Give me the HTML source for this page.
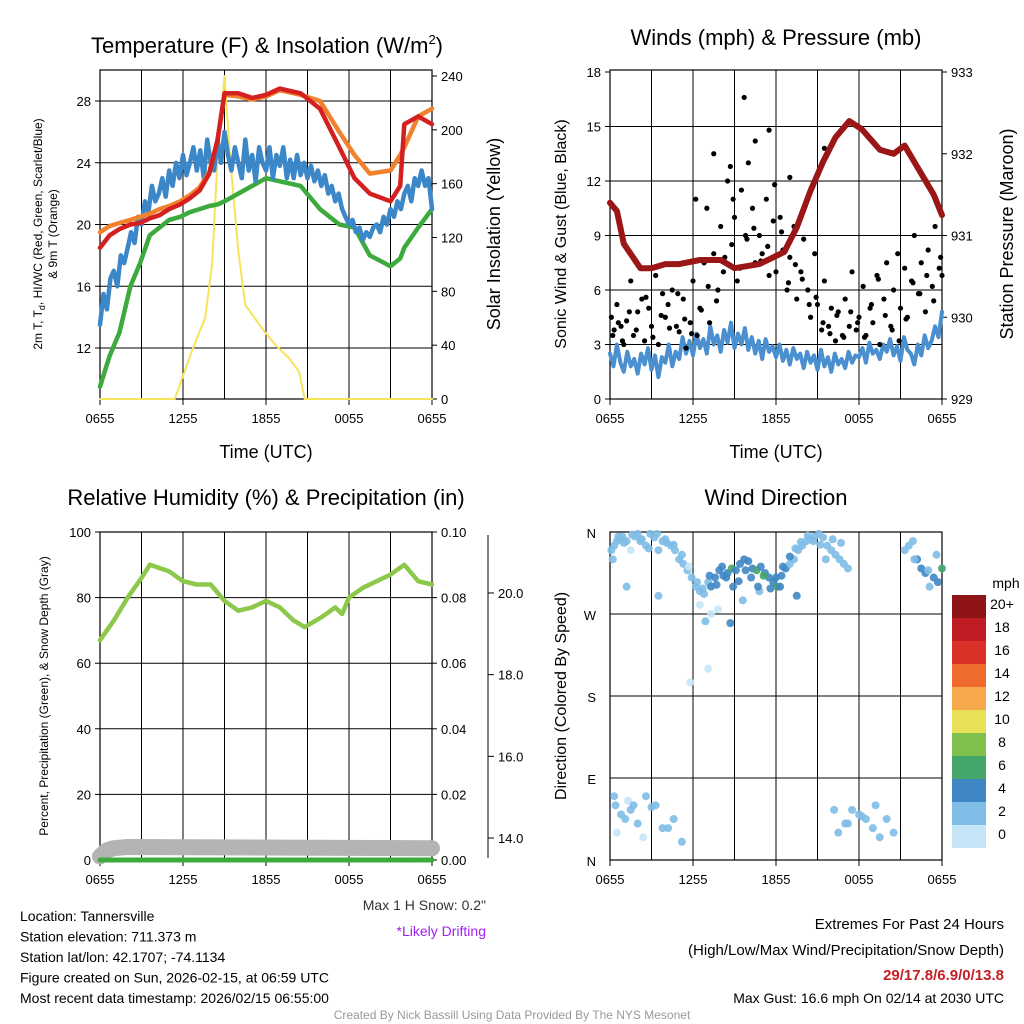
<!DOCTYPE html>
<html><head><meta charset="utf-8"><style>
body{margin:0;background:#fff}
svg{display:block;font-family:"Liberation Sans",sans-serif}
</style></head><body>
<svg id="s" width="1024" height="1024" viewBox="0 0 1024 1024" xmlns="http://www.w3.org/2000/svg"></svg>
<script>
// ---------- DATA (hours after 0655) ----------
const hours=[0,0.7,1.4,2.2,2.9,3.6,4.3,5,5.8,6.5,7.2,7.9,8.5,9,10,11,12,13,14.5,15.9,17.3,18.4,19.5,21,21.7,22,23,24];
const tempRed=[18.5,19.3,19.7,20,20.1,20.4,20.6,21,21.3,21.7,22.2,23.3,25.5,28.5,28.5,28.2,28.4,28.8,28.5,27.5,25,23,22,21.5,22.5,26.5,27,26.5];
const tempOrange=[19.5,19.9,20.1,20.3,20.5,20.7,21,21.2,21.5,21.9,22.4,23.4,25.5,28.4,28.3,28.1,28.3,28.7,28.4,28,26,24.5,23.3,23.5,24.5,25,27,27.5];
const tempGreen=[9.5,11.5,13,16,17.5,19.3,19.8,20.3,20.5,20.8,21,21.2,21.3,21.5,22,22.5,23,22.8,22.5,21,20,19.8,18,17.3,17.8,18.5,19.8,21];
const blueH=[0,0.25,0.5,0.75,1,1.25,1.5,1.75,2,2.25,2.5,2.75,3,3.25,3.5,3.75,4,4.25,4.5,4.75,5,5.25,5.5,5.75,6,6.25,6.5,6.75,7,7.25,7.5,7.75,8,8.25,8.5,8.75,9,9.25,9.5,9.75,10,10.25,10.5,10.75,11,11.25,11.5,11.75,12,12.25,12.5,12.75,13,13.25,13.5,13.75,14,14.25,14.5,14.75,15,15.25,15.5,15.75,16,16.25,16.5,16.75,17,17.25,17.5,17.75,18,18.25,18.5,18.75,19,19.25,19.5,19.75,20,20.25,20.5,20.75,21,21.25,21.5,21.75,22,22.25,22.5,22.75,23,23.25,23.5,23.75,24];
const tempBlue=[13.5,15.5,14.5,16.5,17,16,18,17.5,18.5,19.5,18.8,20.5,20,21.5,20.8,22.5,21.5,22,23,21.8,23.5,22.5,24,23,24.5,23.2,24,25,23.5,24.8,23,25.5,24,23.5,25.5,24,26,24.5,23.5,25,24,23,25.5,23.5,24.5,22.8,25,24,23.5,25,23,24.5,23.8,25,23,24.2,23,24.5,23.2,24,23,23.8,22.8,23.5,22.5,23.2,22,22.5,21.5,22,21,20.5,20,20.3,19.5,19.8,19,19.5,19.2,19.8,20,19.5,20.5,20,21,20.5,21.5,21,22,22.5,21.5,23,22.5,23.5,22.5,23,21];
const solT=[0,5.4,6.1,6.8,7.6,8.1,8.5,9,9.4,10,10.5,11.2,11.9,12.7,13.7,14.4,14.8,24];
const solV=[0,0,20,40,60,100,180,240,180,110,70,60,50,40,30,20,0,0];
const presH=[0,0.5,1,2.2,3,4,5,6.5,8,9,10.8,12.6,13.5,14.5,15.4,16.3,17.3,18.2,19.5,20.5,21.3,22,22.7,23.4,24];
const presV=[931.4,931.3,930.9,930.6,930.6,930.65,930.65,930.7,930.7,930.6,930.65,930.8,931.1,931.55,931.9,932.2,932.4,932.3,932.05,932.0,932.1,931.9,931.7,931.5,931.25];
const windH=[0,0.25,0.5,0.75,1,1.25,1.5,1.75,2,2.25,2.5,2.75,3,3.25,3.5,3.75,4,4.25,4.5,4.75,5,5.25,5.5,5.75,6,6.25,6.5,6.75,7,7.25,7.5,7.75,8,8.25,8.5,8.75,9,9.25,9.5,9.75,10,10.25,10.5,10.75,11,11.25,11.5,11.75,12,12.25,12.5,12.75,13,13.25,13.5,13.75,14,14.25,14.5,14.75,15,15.25,15.5,15.75,16,16.25,16.5,16.75,17,17.25,17.5,17.75,18,18.25,18.5,18.75,19,19.25,19.5,19.75,20,20.25,20.5,20.75,21,21.25,21.5,21.75,22,22.25,22.5,22.75,23,23.25,23.5,23.75,24];
const windV=[2.5,1.8,3,2,1.5,2.6,1.8,2.2,1.4,2.5,1.9,2.8,1.6,2.4,1.2,2.3,2,3,1.8,2.6,2.2,3.4,2.5,3.2,2.4,3.6,2.8,3.3,2.5,4,3,3.5,2.6,3.8,3.1,4.2,2.8,3.6,3,3.9,2.7,3.4,2.5,3.2,2.2,3.3,2.6,2.9,2.3,3,2.1,2.7,1.9,2.8,2.2,2.5,1.7,2.6,2,2.4,1.6,2.7,1.8,2.3,1.5,2.5,1.9,2.2,1.7,2.6,2,2.4,2.3,2.8,2,3.1,2.5,2.7,2.2,3,2.6,3.3,2.4,2.9,2.1,3.4,2.7,2.5,1.9,3,2.4,3.5,2.8,3.2,4,3.4,4.8];
const gustT=[0.1,0.3,0.5,0.8,1,1.2,1.5,1.7,2,2.3,2.5,2.8,3,3.3,3.5,3.8,4,4.2,4.5,4.8,5,5.3,5.5,5.8,6,6.3,6.5,6.8,7,7.2,7.5,7.8,8,8.2,8.5,8.8,9,9.2,9.5,9.8,10,10.3,10.5,10.8,11,11.3,11.5,11.8,12,12.3,12.5,12.8,13,13.3,13.5,13.8,14,14.3,14.5,14.8,15,15.3,15.5,15.8,16,16.3,16.5,16.8,17,17.3,17.5,17.8,18,18.3,18.5,18.8,19,19.3,19.5,19.8,20,20.3,20.5,20.8,21,21.3,21.5,21.8,22,22.3,22.5,22.8,23,23.3,23.5,23.8,24,9.7,10.5,6.2,7.5,8.7,11.5,13,15.5,0.2,0.6,0.9,1.4,1.9,2.6,3.1,3.7,4.3,4.9,5.4,5.9,6.6,7.1,7.7,8.3,8.9,9.4,9.9,10.4,10.9,11.4,11.9,12.4,12.9,13.4,13.9,14.4,14.9,15.4,15.9,16.4,16.9,17.4,17.9,18.4,18.9,19.4,19.9,20.4,20.9,21.4,21.9,22.4,22.9,23.4,23.9];
const gustV=[4.5,3.8,5.2,4,3,4.3,6.5,3.5,4.8,5.5,3.2,5,4,6.8,3,5.8,4.5,5.2,6,4,3.7,5.5,2.8,4.2,6.5,3.5,5,7.5,10.5,4.2,8,6,9.5,7,12,8.5,10,6.5,11.5,9,13,10.5,7.5,9,8,11,6.8,9.8,7,10,8.2,6,7.8,9.5,5.5,7,8.8,6,4.5,8,5.2,3.8,6.5,4,5,3.2,4.8,3.5,5.5,4,7,3.8,4.5,6.2,3.5,5,4.2,6.8,3,5.5,7.5,4,6,8,5,7.2,4.5,6.5,9,5.8,7.5,4.8,8.2,6.2,9.5,7.2,6.8,16.6,14.2,11,13.5,12.8,14.8,12.2,13.8,3.5,4.2,3.2,4.8,3.8,5.6,3.4,4.6,3.9,5.8,4.4,3.6,4.9,6.2,5.4,7.8,11,7.2,8.8,9.4,7.6,8.4,11.8,9.2,6.4,7.4,6.6,5.2,5.6,4.2,3.6,4.6,3.4,4.8,4.2,3.4,5.2,6.6,4.6,3.8,3.2,4.4,6.4,5.8,6.8,5.4,7.8,6.4,4.8,7.2,8.6];
const rhH=[0,1,2,3,3.6,5,6,7,8,9,10,11,12,13,14,14.8,16,17,17.5,18,19,20,21,22,23,24];
const rhV=[67,73,80,86,90,88,85,84,84,79,76,77,79,77,73,71,74,77,75,80,83,85,87,90,85,84];
const snowH=[0,0.5,1,2,24];
const snowV=[13.55,13.7,13.75,13.78,13.75];
const dirT=[0.1,0.3,0.5,0.7,0.9,1.2,1.5,1.8,2,2.3,2.6,2.9,3.2,3.5,3.8,4.1,4.4,4.7,5,5.3,5.6,5.9,6.2,6.5,6.8,7.1,7.3,7.6,7.9,8.2,8.5,8.8,9.1,9.4,9.7,10,10.3,10.6,10.9,11.2,11.5,11.8,12.1,12.4,12.7,13,13.3,13.6,13.9,14.2,14.5,14.8,15.1,15.4,15.7,16,16.3,16.6,16.9,17.2,21.3,21.6,21.9,22.2,22.5,22.8,23.1,23.4,23.7,24,1.2,3.5,6.5,6.9,7.3,7.8,8.7,9.6,10.8,12.3,13.5,0.3,0.8,1.3,2,2.6,3.3,4.2,5.2,0.5,1.5,16.5,17,17.5,18,18.5,19,19.5,20,20.5,5.8,7.1,0.2,0.6,1,1.6,2.2,2.8,3.4,4,4.6,5.2,5.7,6.3,6.7,7.2,7.7,8.1,8.4,8.9,9.3,9.8,10.2,10.7,11.1,11.6,12,12.5,13,13.4,13.8,14.3,14.7,15.2,15.6,16.1,16.7,22,23,23.6,0.4,1.1,1.7,2.4,3,3.8,4.6,16.2,17.2,18.2,19.2,20.2];
const dirV=[340,345,350,352,355,350,340,355,358,352,345,358,354,340,350,348,345,340,330,325,318,310,300,295,292,305,300,310,318,312,315,320,318,325,330,328,320,318,322,315,310,305,300,312,320,325,330,340,345,350,352,355,358,354,345,340,335,330,325,320,340,345,350,330,320,315,300,310,305,320,300,290,280,262,270,275,260,285,295,300,290,70,50,65,40,70,60,35,20,30,55,30,40,55,50,45,35,25,45,30,195,210,330,355,348,357,350,342,358,352,346,335,322,305,298,312,302,322,310,300,306,318,310,300,312,298,310,322,333,342,349,356,350,346,330,352,348,330,318,335,60,45,60,25,58,35,45,55,40,48,60];
const dirS=[2,2,2,2,2,2,0,2,2,2,2,2,2,2,2,2,2,2,2,2,2,2,2,2,2,2,4,4,4,4,4,6,4,4,4,4,4,6,4,4,4,4,6,4,4,2,2,2,2,2,2,2,2,2,2,2,2,2,2,2,2,2,2,4,4,4,2,4,4,6,2,2,0,2,0,0,4,2,2,4,4,2,2,0,2,2,2,2,2,0,2,2,2,2,2,2,2,2,2,2,0,0,2,2,2,2,2,2,2,2,2,2,0,2,2,4,4,4,4,4,4,4,4,4,6,4,4,4,4,2,2,2,2,2,2,2,2,2,2,2,2,2,2,0,2,2,2,2,2,2,2,2];
const cbLabels=["20+","18","16","14","12","10","8","6","4","2","0"];
const cbColors=["#8e1417","#c01c23","#da3229","#ef6a2d","#f6a94a","#e8e158","#80c04c","#44a56a","#3f87c4","#7fbde6","#c6e6f7"];

// ---------- helpers ----------
const S=document.getElementById('s');const NS="http://www.w3.org/2000/svg";
function el(t,a,p){const e=document.createElementNS(NS,t);for(const k in a)e.setAttribute(k,a[k]);(p||S).appendChild(e);return e;}
function txt(x,y,s,size,anchor,p,extra){const e=el('text',Object.assign({x:x,y:y,'font-size':size,'text-anchor':anchor||'middle',fill:'#000'},extra||{}),p);e.textContent=s;return e;}
function panel(x0,y0,x1,y1){return {x:h=>x0+(x1-x0)*h/24,x0,y0,x1,y1};}
function linear(v0,v1,p0,p1){return v=>p0+(v-v0)*(p1-p0)/(v1-v0);}
function poly(xs,ys,fx,fy,color,w,name){const pts=xs.map((h,i)=>fx(h).toFixed(1)+','+fy(ys[i]).toFixed(1)).join(' ');
 const e=el('polyline',{points:pts,fill:'none',stroke:color,'stroke-width':w,'stroke-linejoin':'round','stroke-linecap':'round'});
 
 return e;}
const xt=["0655","1255","1855","0055","0655"];
function frame(P,hy,name){
 const g=el('g',{});
 for(let i=1;i<8;i++)el('line',{x1:P.x(i*3),x2:P.x(i*3),y1:P.y0,y2:P.y1,stroke:'#000','stroke-width':1},g);
 hy.forEach(y=>el('line',{x1:P.x0,x2:P.x1,y1:y,y2:y,stroke:'#000','stroke-width':1},g));
 el('rect',{x:P.x0,y:P.y0,width:P.x1-P.x0,height:P.y1-P.y0,fill:'none',stroke:'#000','stroke-width':1.2},g);
 xt.forEach((s,i)=>{const x=P.x(i*6);el('line',{x1:x,x2:x,y1:P.y1,y2:P.y1+6,stroke:'#000'},g);txt(x,P.y1+24,s,13,'middle',g);});
 return g;}
function yaxis(P,vals,f,side,fmt,g){vals.forEach(v=>{const y=f(v);const x=side=='l'?P.x0:P.x1;
 el('line',{x1:x,x2:x+(side=='l'?-5:5),y1:y,y2:y,stroke:'#000'},g);
 txt(side=='l'?x-9:x+9,y+5,fmt(v),13,side=='l'?'end':'start',g);});}

// ---------- Panel 1 ----------
const P1=panel(100,70,432,399);const t1=linear(12,28,348,101);const s1=linear(0,240,399,76);
const g1=frame(P1,[12,16,20,24,28].map(t1),'temperature-panel');
yaxis(P1,[12,16,20,24,28],t1,'l',v=>v,g1);yaxis(P1,[0,40,80,120,160,200,240],s1,'r',v=>v,g1);
poly(solT,solV,P1.x,s1,'#f7e35a',2,'insolation-line');
poly(hours,tempGreen,P1.x,t1,'#3caa3c',4.5,'dewpoint-line');
poly(blueH,tempBlue,P1.x,t1,'#3c87c8',4.5,'heat-index-line');
poly(hours,tempOrange,P1.x,t1,'#f0822d',4.5,'9m-temp-line');
poly(hours,tempRed,P1.x,t1,'#d42020',4.5,'2m-temp-line');
txt(267,53,'',22,'middle',g1).innerHTML='Temperature (F) &amp; Insolation (W/m<tspan font-size="13" dy="-9">2</tspan><tspan dy="9">)</tspan>';
txt(266,458,'Time (UTC)',18,'middle',g1);
const yl=txt(0,0,'',12,'middle',g1,{transform:'translate(42,234) rotate(-90)'});yl.innerHTML='2m T, T<tspan font-size="9" dy="3">d</tspan><tspan dy="-3">, HI/WC (Red, Green, Scarlet/Blue)</tspan>';
txt(0,0,'& 9m T (Orange)',12,'middle',g1,{transform:'translate(57,234) rotate(-90)'});
txt(0,0,'Solar Insolation (Yellow)',18,'middle',g1,{transform:'translate(500,234) rotate(-90)'});

// ---------- Panel 2 ----------
const P2=panel(610,70,942,399);const w2=linear(0,18,399,72);const p2=linear(929,933,399,72);
const g2=frame(P2,[3,6,9,12,15].map(w2),'winds-panel');
yaxis(P2,[0,3,6,9,12,15,18],w2,'l',v=>v,g2);yaxis(P2,[929,930,931,932,933],p2,'r',v=>v,g2);
poly(windH,windV,P2.x,w2,'#4a90d0',4,'sonic-wind-line');
gustT.forEach((h,i)=>{if(gustV[i]===undefined)return;const c=el('circle',{cx:P2.x(h),cy:w2(gustV[i]),r:2.6,fill:'#000'});
 
 });
poly(presH,presV,P2.x,p2,'#9b1616',6,'pressure-line');
txt(776,45,'Winds (mph) & Pressure (mb)',22,'middle',g2);
txt(776,458,'Time (UTC)',18,'middle',g2);
txt(0,0,'Sonic Wind & Gust (Blue, Black)',16,'middle',g2,{transform:'translate(566,234) rotate(-90)'});
txt(0,0,'Station Pressure (Maroon)',18,'middle',g2,{transform:'translate(1013,234) rotate(-90)'});

// ---------- Panel 3 ----------
const P3=panel(100,532,432,860);const r3=linear(0,100,860,532);const sn=linear(14,20,838,593);
const g3=frame(P3,[20,40,60,80].map(r3),'humidity-panel');
yaxis(P3,[0,20,40,60,80,100],r3,'l',v=>v,g3);yaxis(P3,[0,20,40,60,80,100],r3,'r',v=>(v/1000).toFixed(2),g3);
el('line',{x1:488,x2:488,y1:535,y2:858,stroke:'#000'},g3);
[14,16,18,20].forEach(v=>{el('line',{x1:488,x2:494,y1:sn(v),y2:sn(v),stroke:'#000'},g3);txt(498,sn(v)+5,v.toFixed(1),13,'start',g3);});
poly(snowH,snowV,P3.x,sn,'#b4b4b4',16,'snow-depth-line');
poly([0,24],[0,0],P3.x,r3,'#3caa3c',5,'precipitation-line');
poly(rhH,rhV,P3.x,r3,'#8cc84a',4.5,'humidity-line');
el('circle',{cx:117,cy:846,r:2.5,fill:'#a020f0'},g3);
txt(266,505,'Relative Humidity (%) & Precipitation (in)',22,'middle',g3);
txt(0,0,'Percent, Precipitation (Green), & Snow Depth (Gray)',12,'middle',g3,{transform:'translate(48,696) rotate(-90)'});
txt(486,910,'Max 1 H Snow: 0.2"',14,'end',g3,{fill:'#333'});
txt(486,936,'*Likely Drifting',14,'end',g3,{fill:'#a020f0'});

// ---------- Panel 4 ----------
const P4=panel(610,532,942,860);const d4=linear(0,360,860,532);
const g4=frame(P4,[90,180,270].map(d4),'wind-direction-panel');
[['N',0],['E',90],['S',180],['W',270],['N',360]].forEach(a=>{txt(596,d4(a[1])+6,a[0],13,'end',g4);});
dirT.forEach((h,i)=>{if(dirV[i]===undefined)return;const sp=dirS[i]===undefined?2:dirS[i];
 const c=el('circle',{cx:P4.x(h),cy:d4(dirV[i]),r:4,fill:cbColors[10-Math.min(10,Math.round(sp/2))],'fill-opacity':0.9});
 
 });
txt(776,505,'Wind Direction',22,'middle',g4);
txt(0,0,'Direction (Colored By Speed)',16,'middle',g4,{transform:'translate(566,696) rotate(-90)'});
const cb=el('g',{});
cbColors.forEach((c,i)=>{el('rect',{x:952,y:595+i*23,width:34,height:23,fill:c},cb);txt(1002,609+i*23,cbLabels[i],14,'middle',cb);});
txt(1006,588,'mph',14,'middle',cb);

// ---------- Footer ----------
const info=["Location: Tannersville","Station elevation: 711.373 m","Station lat/lon: 42.1707; -74.1134","Figure created on Sun, 2026-02-15, at 06:59 UTC","Most recent data timestamp: 2026/02/15 06:55:00"];
info.forEach((s,i)=>txt(20,921+i*20.5,s,14,'start'));
txt(1004,929,'Extremes For Past 24 Hours',15,'end');
txt(1004,955,'(High/Low/Max Wind/Precipitation/Snow Depth)',15,'end');
txt(1004,980,'29/17.8/6.9/0/13.8',15,'end',null,{fill:'#c41f26','font-weight':'bold'});
txt(1004,1003,'Max Gust: 16.6 mph On 02/14 at 2030 UTC',14,'end');
txt(512,1019,'Created By Nick Bassill Using Data Provided By The NYS Mesonet',12,'middle',null,{fill:'#999'});
</script>
</body></html>
